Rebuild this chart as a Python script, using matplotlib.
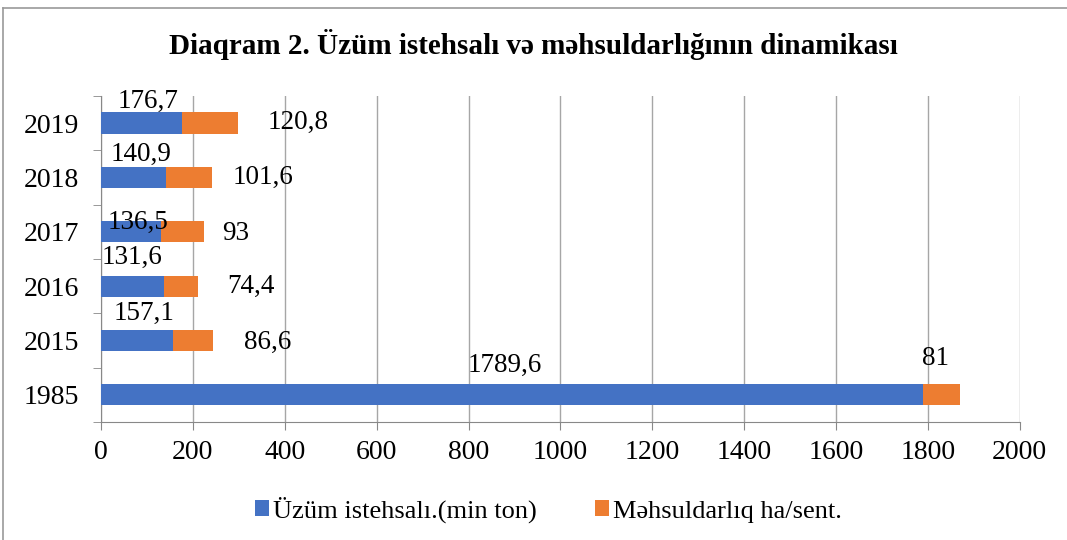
import numpy as np
import matplotlib
matplotlib.use("Agg")
import matplotlib.pyplot as plt
from matplotlib.lines import Line2D

plt.rcParams['font.family'] = ['Liberation Serif', 'DejaVu Serif']

# data
years = ['1985', '2015', '2016', '2017', '2018', '2019']
production = [1789.6, 157.1, 136.5, 131.6, 140.9, 176.7]
productivity = [81, 86.6, 74.4, 93, 101.6, 120.8]
# labels as printed on the chart (2016/2017 production labels are swapped there)
prod_labels = ['1789,6', '157,1', '131,6', '136,5', '140,9', '176,7']
yield_labels = ['81', '86,6', '74,4', '93', '101,6', '120,8']

# label placement (data units), hand positioned like in the source
prod_lab_x = [880, 94, 68, 80, 87, 102]
prod_lab_dy = [0.55, 0.49, 0.52, 0.17, 0.42, 0.40]
yld_lab_x = [1817, 362, 326, 292, 353, 429]
yld_lab_dy = [0.66, -0.04, 0.0, -0.04, 0.0, 0.02]

blue = '#4472C4'
orange = '#ED7D31'

fig = plt.figure(figsize=(10.67, 5.4), dpi=100)
ax = fig.add_axes([0.0947, 0.2185, 0.861, 0.604])

y = np.arange(len(years))
ax.barh(y, production, height=0.39, color=blue, label='Üzüm istehsalı.(min ton)', zorder=3)
ax.barh(y, productivity, left=production, height=0.39, color=orange,
        label='Məhsuldarlıq ha/sent.', zorder=3)

for i in range(len(years)):
    ax.text(prod_lab_x[i], y[i] + prod_lab_dy[i], prod_labels[i], ha='center', va='center',
            fontsize=19.5, zorder=4)
    ax.text(yld_lab_x[i], y[i] + yld_lab_dy[i], yield_labels[i], ha='center', va='center',
            fontsize=19.5, zorder=4)

ax.set_xlim(0, 2000)
ax.set_ylim(-0.5, len(years) - 0.5)
ax.set_xticks(np.arange(0, 2001, 200))
ax.set_yticks(y)
ax.set_yticklabels(years)
ax.set_yticks(np.arange(-0.5, len(years), 1), minor=True)
ax.tick_params(axis='y', which='major', length=0, labelsize=20, pad=16)
ax.tick_params(axis='y', which='minor', length=6, color='#888888', direction='out')
ax.tick_params(axis='x', length=6, color='#888888', direction='out', labelsize=20, pad=7)
ax.grid(axis='x', color='#a6a6a6', linewidth=1, zorder=0)
for s in ['top', 'right']:
    ax.spines[s].set_visible(False)
ax.spines['left'].set_color('#888888')
ax.spines['bottom'].set_color('#888888')

fig.text(0.5, 0.917, 'Diaqram 2. Üzüm istehsalı və məhsuldarlığının dinamikası',
         ha='center', va='center', fontsize=21, fontweight='bold')

fig.legend(loc='center', bbox_to_anchor=(0.514, 0.056), ncol=2, frameon=False,
           fontsize=19, handlelength=0.55, handleheight=0.55, handletextpad=0.15,
           columnspacing=2.2)

# chart frame (only top and left edges are inside the picture)
fig.add_artist(Line2D([0.003, 1.0], [0.985, 0.985], color='#999999', linewidth=1.2))
fig.add_artist(Line2D([0.003, 0.003], [0.0, 0.985], color='#999999', linewidth=1.2))

fig.savefig('out.png', dpi=100)
